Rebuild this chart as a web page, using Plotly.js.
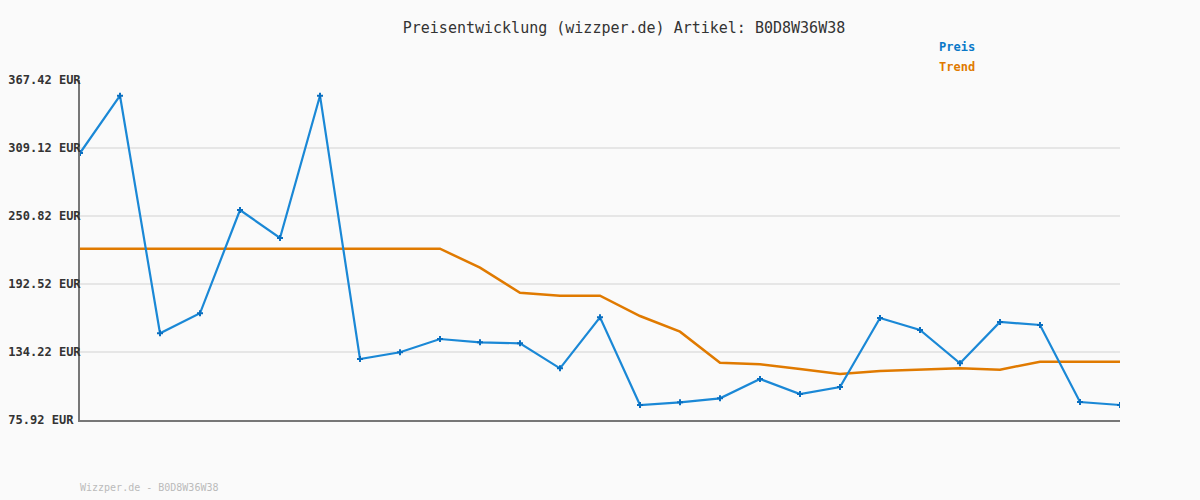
<!DOCTYPE html>
<html>
<head>
<meta charset="utf-8">
<script src="https://cdn.plot.ly/plotly-3.0.1.min.js"></script>
<style>html,body{margin:0;padding:0;background:#fafafa;}#chart{width:1200px;height:500px;}</style>
</head>
<body>
<div id="chart"></div>
<script>
const pointIndex = [0,1,2,3,4,5,6,7,8,9,10,11,12,13,14,15,16,17,18,19,20,21,22,23,24,25,26];
const preis = [304.83,353.96,150.25,167.40,255.96,231.96,353.96,128.22,133.96,145.37,142.54,141.68,120.24,163.97,88.78,91.10,94.52,111.07,98.21,104.21,163.37,153.08,124.53,159.94,157.37,91.35,88.78];
const trend = [222.79,222.79,222.79,222.79,222.79,222.79,222.79,222.79,222.79,222.79,206.49,185.06,182.49,182.49,165.08,151.62,125.05,123.67,119.65,115.36,117.93,119.05,120.24,119.05,125.91,125.91,125.91];
const yTicks = [75.92,134.22,192.52,250.82,309.12,367.42];
const yTickText = yTicks.map(v => (v.toFixed(2) + ' EUR').padEnd(10, '\u00a0'));
const titleText = 'Preisentwicklung (wizzper.de) Artikel: B0D8W36W38';
const footerText = 'Wizzper.de - B0D8W36W38';

const mono = 'DejaVu Sans Mono, Liberation Mono, monospace';

const traces = [
  {x: pointIndex, y: trend, type: 'scatter', mode: 'lines', name: 'Trend',
   line: {color: '#e07a00', width: 2.5}, hoverinfo: 'skip'},
  {x: pointIndex, y: preis, type: 'scatter', mode: 'lines+markers', name: 'Preis',
   line: {color: '#1a88d6', width: 2.2},
   marker: {symbol: 'cross', size: 5, color: '#0a6fc0'}}
];

const layout = {
  width: 1200, height: 500,
  paper_bgcolor: '#fafafa', plot_bgcolor: '#fafafa',
  margin: {l: 80, r: 80, t: 80, b: 80},
  showlegend: false,
  title: {text: titleText, x: 0.52, xanchor: 'center', y: 0.944, yanchor: 'middle',
          font: {family: mono, size: 15, color: '#333'}},
  xaxis: {range: [0, 26], showgrid: false, zeroline: false, showticklabels: false,
          showline: true, linecolor: '#777', linewidth: 2, ticks: ''},
  yaxis: {range: [75.92, 367.42], tickvals: yTicks, ticktext: yTickText,
          showgrid: true, gridcolor: '#e6e6e6', gridwidth: 2, zeroline: false,
          showline: true, linecolor: '#777', linewidth: 2, ticks: '',
          ticklabelstandoff: -5,
          tickfont: {family: mono, size: 12, color: '#333', weight: 'bold'}},
  annotations: [
    {text: '<b>Preis</b>', xref: 'paper', yref: 'paper', x: (937-80)/1040, y: (500-47-80)/340,
     xanchor: 'left', yanchor: 'middle', showarrow: false,
     font: {family: mono, size: 12, color: '#0a78c8'}},
    {text: '<b>Trend</b>', xref: 'paper', yref: 'paper', x: (937-80)/1040, y: (500-67-80)/340,
     xanchor: 'left', yanchor: 'middle', showarrow: false,
     font: {family: mono, size: 12, color: '#e07a00'}},
    {text: footerText, xref: 'paper', yref: 'paper', x: -2/1040, y: (500-487-80)/340,
     xanchor: 'left', yanchor: 'middle', showarrow: false,
     font: {family: mono, size: 10, color: '#bbbbbb'}}
  ]
};

Plotly.newPlot('chart', traces, layout, {displayModeBar: false, staticPlot: true});
</script>
</body>
</html>
